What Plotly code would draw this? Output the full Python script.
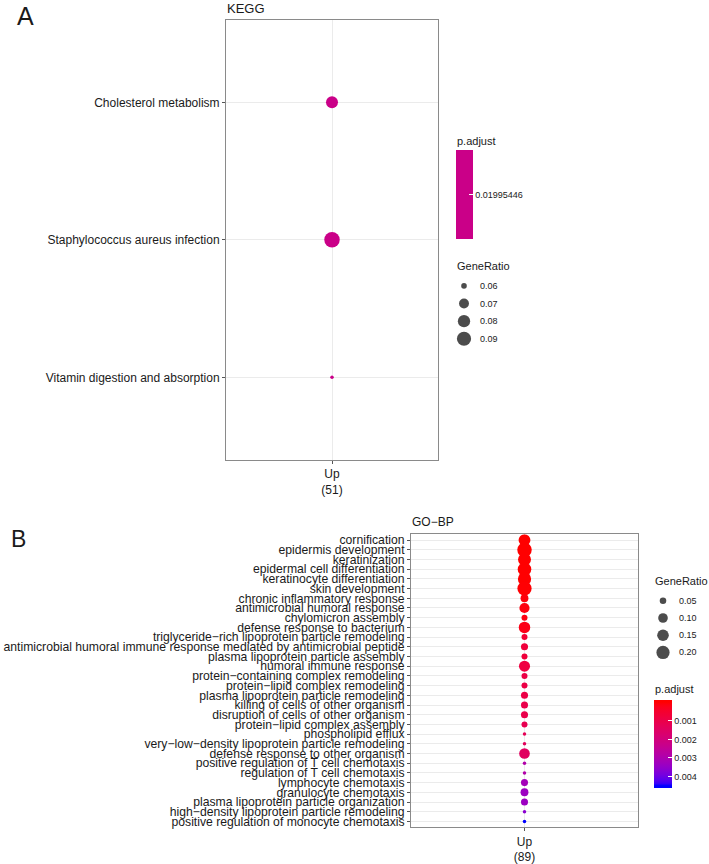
import math
import plotly.graph_objects as go

# ---------------- data ----------------
kegg_terms = ["Cholesterol metabolism",
              "Staphylococcus aureus infection",
              "Vitamin digestion and absorption"]
kegg_ratio = [0.0784, 0.0980, 0.0588]
kegg_padj = [0.01995446, 0.01995446, 0.01995446]
kegg_xlabel = "Up<br>(51)"
kegg_size_breaks = [0.06, 0.07, 0.08, 0.09]

gobp_terms = [
    "cornification",
    "epidermis development",
    "keratinization",
    "epidermal cell differentiation",
    "keratinocyte differentiation",
    "skin development",
    "chronic inflammatory response",
    "antimicrobial humoral response",
    "chylomicron assembly",
    "defense response to bacterium",
    "triglyceride\u2212rich lipoprotein particle remodeling",
    "antimicrobial humoral immune response mediated by antimicrobial peptide",
    "plasma lipoprotein particle assembly",
    "humoral immune response",
    "protein\u2212containing complex remodeling",
    "protein\u2212lipid complex remodeling",
    "plasma lipoprotein particle remodeling",
    "killing of cells of other organism",
    "disruption of cells of other organism",
    "protein\u2212lipid complex assembly",
    "phospholipid efflux",
    "very\u2212low\u2212density lipoprotein particle remodeling",
    "defense response to other organism",
    "positive regulation of T cell chemotaxis",
    "regulation of T cell chemotaxis",
    "lymphocyte chemotaxis",
    "granulocyte chemotaxis",
    "plasma lipoprotein particle organization",
    "high\u2212density lipoprotein particle remodeling",
    "positive regulation of monocyte chemotaxis",
]
gobp_ratio = [0.1573, 0.2472, 0.1910, 0.2135, 0.2022, 0.2360, 0.0674, 0.1124,
              0.0449, 0.1461, 0.0449, 0.0562, 0.0449, 0.1348, 0.0449, 0.0449,
              0.0562, 0.0562, 0.0562, 0.0449, 0.0337, 0.0337, 0.1236, 0.0337,
              0.0337, 0.0562, 0.0674, 0.0562, 0.0337, 0.0337]
gobp_padj = [0.00001, 0.00001, 0.00002, 0.00002, 0.00002, 0.00003, 0.00010,
             0.00012, 0.00015, 0.00020, 0.00060, 0.00075, 0.00075, 0.00085,
             0.00095, 0.00095, 0.00095, 0.00105, 0.00105, 0.00115, 0.00125,
             0.00135, 0.00145, 0.00290, 0.00290, 0.00320, 0.00335, 0.00335,
             0.00365, 0.00450]
gobp_xlabel = "Up<br>(89)"
gobp_size_breaks = [0.05, 0.10, 0.15, 0.20]
gobp_color_ticks = [0.001, 0.002, 0.003, 0.004]

# ---------------- helpers ----------------
W, H = 709, 864
FONT = "Liberation Sans, Arial, Helvetica, sans-serif"
TXT = "#1a1a1a"


def px_x(x):
    return x / W


def px_y(y):
    return 1 - y / H


def _lin(c):
    c = c / 255.0
    return c / 12.92 if c <= 0.04045 else ((c + 0.055) / 1.055) ** 2.4


def _gam(c):
    c = 12.92 * c if c <= 0.0031308 else 1.055 * c ** (1 / 2.4) - 0.055
    return max(0, min(255, round(c * 255)))


WHITE = (0.95047, 1.0, 1.08883)


def rgb2lab(rgb):
    r, g, b = [_lin(v) for v in rgb]
    X = 0.4124 * r + 0.3576 * g + 0.1805 * b
    Y = 0.2126 * r + 0.7152 * g + 0.0722 * b
    Z = 0.0193 * r + 0.1192 * g + 0.9505 * b
    d = 6 / 29

    def f(t):
        return t ** (1 / 3) if t > d ** 3 else t / (3 * d * d) + 4 / 29
    fx, fy, fz = f(X / WHITE[0]), f(Y / WHITE[1]), f(Z / WHITE[2])
    return (116 * fy - 16, 500 * (fx - fy), 200 * (fy - fz))


def lab2rgb(lab):
    L, a, b = lab
    d = 6 / 29
    fy = (L + 16) / 116
    fx = fy + a / 500
    fz = fy - b / 200

    def fi(t):
        return t ** 3 if t > d else 3 * d * d * (t - 4 / 29)
    X, Y, Z = WHITE[0] * fi(fx), WHITE[1] * fi(fy), WHITE[2] * fi(fz)
    r = 3.2406 * X - 1.5372 * Y - 0.4986 * Z
    g = -0.9689 * X + 1.8758 * Y + 0.0415 * Z
    bb = 0.0557 * X - 0.2040 * Y + 1.0570 * Z
    return "rgb(%d,%d,%d)" % (_gam(r), _gam(g), _gam(bb))


LAB_RED = rgb2lab((255, 0, 0))
LAB_BLUE = rgb2lab((0, 0, 255))


def red_blue(t):
    # t = 0 -> red, t = 1 -> blue (Lab interpolation, like ggplot2)
    t = max(0.0, min(1.0, t))
    return lab2rgb(tuple(LAB_RED[i] + (LAB_BLUE[i] - LAB_RED[i]) * t for i in range(3)))


def diam(x, lo, hi, dmin, dmax):
    t = (x - lo) / (hi - lo)
    t = max(0.0, min(1.0, t))
    return dmin + (dmax - dmin) * math.sqrt(t)


# ---------------- figure ----------------
fig = go.Figure()

# Panel A ------------------------------------------------------------
a_lo, a_hi = min(kegg_ratio), max(kegg_ratio)
A_DMIN, A_DMAX = 3.5, 15.5
mid_col = red_blue(0.5)
p0 = kegg_padj[0]
fig.add_trace(go.Scatter(
    x=[kegg_xlabel] * len(kegg_terms), y=kegg_terms, mode="markers",
    xaxis="x", yaxis="y", showlegend=False, hoverinfo="skip",
    marker=dict(
        size=[diam(v, a_lo, a_hi, A_DMIN, A_DMAX) for v in kegg_ratio],
        sizemode="diameter", color=kegg_padj,
        colorscale=[[0, mid_col], [1, mid_col]],
        cmin=p0 - 1e-6, cmax=p0 + 1e-6, line=dict(width=0), opacity=1,
        showscale=True,
        colorbar=dict(
            thickness=17, thicknessmode="pixels", len=89, lenmode="pixels",
            x=px_x(456), xanchor="left", xpad=0, y=px_y(150), yanchor="top", ypad=0,
            outlinewidth=0, ticks="inside", tickcolor="white", ticklen=4, tickwidth=1,
            tickvals=[p0], ticktext=["%.8f" % p0],
            tickfont=dict(family=FONT, size=9, color=TXT)),
    )))

# Panel A size legend
fig.add_trace(go.Scatter(
    x=[0.5] * len(kegg_size_breaks), y=list(range(len(kegg_size_breaks))),
    mode="markers", xaxis="x3", yaxis="y3", showlegend=False, hoverinfo="skip",
    marker=dict(size=[diam(v, a_lo, a_hi, A_DMIN, A_DMAX) for v in kegg_size_breaks],
                sizemode="diameter", color="#000000", line=dict(width=0))))

# Panel B ------------------------------------------------------------
b_lo, b_hi = min(gobp_ratio), max(gobp_ratio)
B_DMIN, B_DMAX = 3.5, 14.5
p_lo, p_hi = min(gobp_padj), max(gobp_padj)
# ggplot insets the colour bar by half a bin at each end
inset = 0.025
span = p_hi - p_lo
c_lo = p_lo - inset * span / 0.95
c_hi = p_hi + inset * span / 0.95
nstop = 41
# colours: value negated so that low p.adjust (red) sits at the top of the bar
cs = []
for i in range(nstop):
    s = i / (nstop - 1)                  # 0 -> -c_hi (blue end), 1 -> -c_lo (red end)
    val = c_hi - s * (c_hi - c_lo)       # p.adjust at this stop
    cs.append([s, red_blue((val - p_lo) / span)])
fig.add_trace(go.Scatter(
    x=[gobp_xlabel] * len(gobp_terms), y=gobp_terms, mode="markers",
    xaxis="x2", yaxis="y2", showlegend=False, hoverinfo="skip",
    marker=dict(
        size=[diam(v, b_lo, b_hi, B_DMIN, B_DMAX) for v in gobp_ratio],
        sizemode="diameter", color=[-p for p in gobp_padj], colorscale=cs,
        cmin=-c_hi, cmax=-c_lo, line=dict(width=0), opacity=1,
        showscale=True,
        colorbar=dict(
            thickness=18, thicknessmode="pixels", len=88, lenmode="pixels",
            x=px_x(654), xanchor="left", xpad=0, y=px_y(704), yanchor="top", ypad=0,
            outlinewidth=0, ticks="inside", tickcolor="white", ticklen=4, tickwidth=1,
            tickvals=[-t for t in gobp_color_ticks],
            ticktext=["%g" % t for t in gobp_color_ticks],
            tickfont=dict(family=FONT, size=9, color=TXT)),
    )))

# Panel B size legend
fig.add_trace(go.Scatter(
    x=[0.5] * len(gobp_size_breaks), y=list(range(len(gobp_size_breaks))),
    mode="markers", xaxis="x4", yaxis="y4", showlegend=False, hoverinfo="skip",
    marker=dict(size=[diam(v, b_lo, b_hi, B_DMIN, B_DMAX) for v in gobp_size_breaks],
                sizemode="diameter", color="#000000", line=dict(width=0))))

GRID = "#EBEBEB"
BORDER = "#8a8a8a"
common = dict(showgrid=True, gridcolor=GRID, gridwidth=1, showline=True, mirror=True,
              linecolor=BORDER, linewidth=1, ticks="outside", ticklen=3,
              tickcolor="#555555", zeroline=False, fixedrange=True)

n_a = len(kegg_terms)
n_b = len(gobp_terms)
fig.update_layout(
    width=W, height=H, margin=dict(l=0, r=0, t=0, b=0),
    paper_bgcolor="white", plot_bgcolor="white", showlegend=False,
    font=dict(family=FONT, color=TXT),
    xaxis=dict(domain=[px_x(226), px_x(438)], anchor="y", type="category",
               range=[-0.6, 0.6], tickfont=dict(size=12, color=TXT), **common),
    yaxis=dict(domain=[px_y(462), px_y(19)], anchor="x", type="category",
               categoryorder="array", categoryarray=kegg_terms,
               tickmode="array", tickvals=kegg_terms,
               range=[n_a - 1 + 0.6, -0.6], tickfont=dict(size=12, color=TXT), **common),
    xaxis2=dict(domain=[px_x(411), px_x(638)], anchor="y2", type="category",
                range=[-0.6, 0.6], tickfont=dict(size=12, color=TXT), **common),
    yaxis2=dict(domain=[px_y(832), px_y(537)], anchor="x2", type="category",
                categoryorder="array", categoryarray=gobp_terms,
                tickmode="array", tickvals=gobp_terms,
                range=[n_b - 1 + 0.6, -0.6], tickfont=dict(size=12.2, color=TXT), **common),
    xaxis3=dict(domain=[px_x(456), px_x(472)], anchor="y3", range=[0, 1], visible=False,
                fixedrange=True),
    yaxis3=dict(domain=[px_y(349), px_y(278)], anchor="x3",
                range=[len(kegg_size_breaks) - 0.5, -0.5], visible=False, fixedrange=True),
    xaxis4=dict(domain=[px_x(655), px_x(671)], anchor="y4", range=[0, 1], visible=False,
                fixedrange=True),
    yaxis4=dict(domain=[px_y(664.7), px_y(595.3)], anchor="x4",
                range=[len(gobp_size_breaks) - 0.5, -0.5], visible=False, fixedrange=True),
)

ann = []


def txt(x, y, s, size, xanchor="left", yanchor="middle", xref="paper", yref="paper", xshift=0):
    ann.append(dict(x=x, y=y, xref=xref, yref=yref, text=s, showarrow=False,
                    xanchor=xanchor, yanchor=yanchor, xshift=xshift,
                    font=dict(family=FONT, size=size, color=TXT)))


txt(px_x(15), px_y(15), "A", 25)
txt(px_x(9), px_y(542), "B", 23)
txt(px_x(225), px_y(8), "KEGG", 13)
txt(px_x(410), px_y(525), "GO\u2212BP", 12)
txt(px_x(455), px_y(141), "p.adjust", 11)
txt(px_x(455), px_y(267), "GeneRatio", 11)
txt(px_x(653), px_y(584), "GeneRatio", 11)
txt(px_x(653), px_y(693), "p.adjust", 11)
for i, v in enumerate(kegg_size_breaks):
    txt(1, i, "%.2f" % v, 9, xref="x3", yref="y3", xshift=6)
for i, v in enumerate(gobp_size_breaks):
    txt(1, i, "%.2f" % v, 9, xref="x4", yref="y4", xshift=6)
fig.update_layout(annotations=ann)

fig.write_html("out.html", config={"displayModeBar": False},
               post_script="document.body.style.margin='0';document.body.style.overflow='hidden';")
